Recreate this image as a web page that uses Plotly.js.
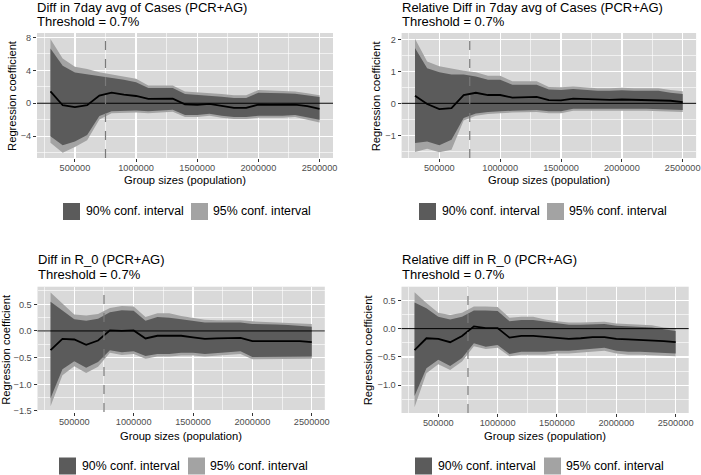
<!DOCTYPE html>
<html>
<head>
<meta charset="utf-8">
<script src="https://cdn.plot.ly/plotly-3.0.1.min.js"></script>
<style>html,body{margin:0;padding:0;background:#fff;}#chart{width:701px;height:475px;}</style>
</head>
<body>
<div id="chart"></div>
<script>
// ---------------- data ----------------
const groupSizes = [300000, 400000, 500000, 600000, 700000, 800000, 900000, 1000000, 1100000, 1200000, 1300000, 1400000, 1500000, 1600000, 1700000, 1800000, 1900000, 2000000, 2100000, 2200000, 2300000, 2400000, 2500000];

const titles1 = ["Diff in 7day avg of Cases (PCR+AG)", "Relative Diff in 7day avg of Cases (PCR+AG)", "Diff in R_0 (PCR+AG)", "Relative diff in R_0 (PCR+AG)"];
const titles2 = ["Threshold = 0.7%", "Threshold = 0.7%", "Threshold = 0.7%", "Threshold = 0.7%"];
const xTitle = "Group sizes (population)";
const yTitle = "Regression coefficient";
const legendLabels = ["90% conf. interval", "95% conf. interval"];
const thresholdX = 750000;
const refLineY = 0;

// Panel 1: Diff in 7day avg of Cases
const p1Est  = [1.44, -0.24, -0.48, -0.24, 0.92, 1.28, 1.04, 0.88, 0.52, 0.56, 0.56, -0.12, -0.2, -0.08, -0.32, -0.56, -0.56, -0.16, -0.2, -0.2, -0.16, -0.36, -0.68];
const p1Lo90 = [-4.0, -5.1, -4.64, -3.84, -1.56, -0.96, -0.88, -0.88, -0.96, -0.88, -0.8, -1.44, -1.44, -1.28, -1.52, -1.68, -1.68, -1.52, -1.52, -1.52, -1.44, -1.68, -2.0];
const p1Hi90 = [6.64, 4.56, 3.72, 3.52, 3.24, 3.12, 2.84, 2.56, 1.84, 1.84, 1.84, 1.12, 1.04, 0.96, 0.8, 0.64, 0.64, 1.28, 1.2, 1.2, 1.16, 0.96, 0.76];
const p1Lo95 = [-4.8, -6.0, -5.3, -4.5, -1.96, -1.2, -1.12, -1.12, -1.2, -1.12, -1.04, -1.68, -1.68, -1.52, -1.76, -1.92, -1.92, -1.76, -1.76, -1.76, -1.68, -1.96, -2.32];
const p1Hi95 = [7.8, 5.44, 4.44, 4.16, 3.76, 3.52, 3.24, 2.96, 2.16, 2.16, 2.16, 1.44, 1.36, 1.28, 1.12, 0.96, 0.96, 1.6, 1.52, 1.52, 1.44, 1.2, 0.96];

// Panel 2: Relative Diff in 7day avg of Cases
const p2Est  = [0.24, -0.02, -0.18, -0.15, 0.26, 0.33, 0.26, 0.26, 0.18, 0.2, 0.2, 0.1, 0.09, 0.15, 0.13, 0.11, 0.11, 0.12, 0.11, 0.11, 0.11, 0.08, 0.04];
const p2Lo90 = [-1.24, -1.19, -1.31, -1.14, -0.46, -0.32, -0.27, -0.25, -0.23, -0.21, -0.21, -0.25, -0.25, -0.17, -0.19, -0.19, -0.19, -0.17, -0.17, -0.17, -0.17, -0.19, -0.21];
const p2Hi90 = [1.73, 1.1, 0.97, 0.9, 0.9, 0.84, 0.74, 0.74, 0.58, 0.58, 0.58, 0.43, 0.42, 0.45, 0.41, 0.39, 0.39, 0.41, 0.39, 0.39, 0.39, 0.33, 0.29];
const p2Lo95 = [-1.52, -1.42, -1.53, -1.45, -0.54, -0.39, -0.33, -0.31, -0.29, -0.27, -0.27, -0.31, -0.31, -0.23, -0.25, -0.25, -0.25, -0.23, -0.23, -0.23, -0.23, -0.25, -0.27];
const p2Hi95 = [2.02, 1.31, 1.16, 1.08, 1.02, 0.97, 0.86, 0.86, 0.69, 0.69, 0.69, 0.51, 0.5, 0.53, 0.49, 0.47, 0.47, 0.49, 0.47, 0.47, 0.47, 0.42, 0.38];

// Panel 3: Diff in R_0
const p3Est  = [-0.36, -0.15, -0.16, -0.26, -0.18, 0.01, 0.0, 0.01, -0.14, -0.09, -0.09, -0.09, -0.12, -0.15, -0.14, -0.13, -0.13, -0.19, -0.19, -0.18, -0.18, -0.19, -0.21];
const p3Lo90 = [-1.26, -0.72, -0.57, -0.69, -0.58, -0.36, -0.4, -0.38, -0.47, -0.43, -0.43, -0.41, -0.41, -0.43, -0.41, -0.4, -0.38, -0.49, -0.48, -0.48, -0.48, -0.48, -0.48];
const p3Hi90 = [0.55, 0.38, 0.22, 0.19, 0.23, 0.35, 0.39, 0.38, 0.19, 0.26, 0.25, 0.22, 0.19, 0.16, 0.16, 0.16, 0.16, 0.13, 0.13, 0.12, 0.11, 0.1, 0.08];
const p3Lo95 = [-1.41, -0.83, -0.66, -0.79, -0.67, -0.41, -0.45, -0.43, -0.52, -0.48, -0.48, -0.46, -0.46, -0.48, -0.46, -0.45, -0.43, -0.53, -0.52, -0.52, -0.52, -0.52, -0.52];
const p3Hi95 = [0.72, 0.51, 0.31, 0.29, 0.32, 0.43, 0.47, 0.46, 0.26, 0.33, 0.33, 0.28, 0.25, 0.21, 0.2, 0.2, 0.2, 0.18, 0.17, 0.16, 0.16, 0.14, 0.13];

// Panel 4: Relative diff in R_0
const p4Est  = [-0.38, -0.17, -0.18, -0.24, -0.13, 0.04, 0.01, 0.01, -0.16, -0.13, -0.13, -0.15, -0.16, -0.18, -0.17, -0.15, -0.15, -0.18, -0.19, -0.2, -0.2, -0.22, -0.24];
const p4Lo90 = [-1.19, -0.7, -0.55, -0.66, -0.52, -0.26, -0.32, -0.29, -0.45, -0.41, -0.41, -0.41, -0.39, -0.39, -0.38, -0.36, -0.34, -0.39, -0.41, -0.41, -0.41, -0.43, -0.44];
const p4Hi90 = [0.46, 0.36, 0.21, 0.16, 0.21, 0.32, 0.32, 0.31, 0.13, 0.15, 0.15, 0.12, 0.09, 0.07, 0.07, 0.07, 0.08, 0.05, 0.04, 0.03, 0.02, -0.01, -0.04];
const p4Lo95 = [-1.39, -0.79, -0.63, -0.73, -0.58, -0.31, -0.36, -0.34, -0.49, -0.46, -0.46, -0.46, -0.44, -0.44, -0.43, -0.41, -0.39, -0.44, -0.46, -0.46, -0.46, -0.48, -0.49];
const p4Hi95 = [0.64, 0.45, 0.28, 0.24, 0.28, 0.39, 0.39, 0.38, 0.19, 0.21, 0.21, 0.16, 0.13, 0.11, 0.11, 0.11, 0.12, 0.09, 0.08, 0.07, 0.06, 0.02, 0.0];

// ---------------- layout helpers ----------------
const W = 701, H = 475;
const fx = v => v / W;
const fy = v => 1 - v / H;
const FONT = "Liberation Sans, Arial, Helvetica, sans-serif";
const DARK = "#5B5B5B", LIGHT = "#A3A3A3", BG = "#D9D9D9";

const series = [
  {est: p1Est, lo90: p1Lo90, hi90: p1Hi90, lo95: p1Lo95, hi95: p1Hi95},
  {est: p2Est, lo90: p2Lo90, hi90: p2Hi90, lo95: p2Lo95, hi95: p2Hi95},
  {est: p3Est, lo90: p3Lo90, hi90: p3Hi90, lo95: p3Lo95, hi95: p3Hi95},
  {est: p4Est, lo90: p4Lo90, hi90: p4Hi90, lo95: p4Lo95, hi95: p4Hi95}
];

// pixel geometry of each panel
const geo = [
  {l: 37.0, r: 333.0, t: 33.0, b: 158.0, yr: [-6.64, 8.52], dt: 4, mdt: 2, fmt: "", ytx: 11.4, t1: 7.4, t2: 22.0, xt: 180.0, legY: 211.5, legX: [63, 86, 191, 213]},
  {l: 401.6, r: 696.1, t: 33.0, b: 158.0, yr: [-1.71, 2.2], dt: 1, mdt: 0.5, fmt: "", ytx: 375.8, t1: 7.4, t2: 22.0, xt: 180.0, legY: 211.5, legX: [419, 442, 547, 569]},
  {l: 37.5, r: 324.8, t: 286.7, b: 412.0, yr: [-1.52, 0.83], dt: 0.5, mdt: 0.25, fmt: ".1f", ytx: 6.4, t1: 259.9, t2: 274.5, xt: 435.6, legY: 466, legX: [59, 82, 188, 210]},
  {l: 401.5, r: 688.7, t: 286.7, b: 413.0, yr: [-1.49, 0.74], dt: 0.5, mdt: 0.25, fmt: ".1f", ytx: 367.4, t1: 259.9, t2: 274.5, xt: 435.6, legY: 466, legX: [415, 438, 544, 566]}
];
const xRange = [190000, 2610000];

const traces = [];
const layout = {
  width: W, height: H,
  margin: {l: 0, r: 0, t: 0, b: 0},
  paper_bgcolor: "#FFFFFF",
  plot_bgcolor: BG,
  showlegend: false,
  font: {family: FONT, color: "#000"},
  shapes: [],
  annotations: []
};

const xsBand = groupSizes.concat(groupSizes.slice().reverse());

series.forEach((s, k) => {
  const i = k + 1;
  const xa = i === 1 ? "x" : "x" + i;
  const ya = i === 1 ? "y" : "y" + i;
  const g = geo[k];

  traces.push({
    type: "scatter", mode: "lines", xaxis: xa, yaxis: ya,
    x: xsBand, y: s.hi95.concat(s.lo95.slice().reverse()),
    fill: "toself", fillcolor: LIGHT, line: {width: 0, color: LIGHT}, hoverinfo: "skip", name: legendLabels[1]
  });
  traces.push({
    type: "scatter", mode: "lines", xaxis: xa, yaxis: ya,
    x: xsBand, y: s.hi90.concat(s.lo90.slice().reverse()),
    fill: "toself", fillcolor: DARK, line: {width: 0, color: DARK}, hoverinfo: "skip", name: legendLabels[0]
  });
  traces.push({
    type: "scatter", mode: "lines", xaxis: xa, yaxis: ya,
    x: groupSizes, y: s.est, line: {color: "#000000", width: 1.8}, name: "estimate"
  });

  layout["xaxis" + (i === 1 ? "" : i)] = {
    domain: [fx(g.l), fx(g.r)], anchor: ya, range: xRange,
    tickmode: "linear", tick0: 0, dtick: 500000, tickformat: "d",
    showgrid: true, gridcolor: "#FFFFFF", gridwidth: 1.3,
    minor: {tick0: 250000, dtick: 500000, showgrid: true, gridcolor: "#FFFFFF", gridwidth: 0.6, ticks: ""},
    zeroline: false, showline: false,
    ticks: "outside", ticklen: 3, tickwidth: 1, tickcolor: "#333333", ticklabelstandoff: -2,
    tickfont: {family: FONT, size: 9.2, color: "#4D4D4D"}
  };
  layout["yaxis" + (i === 1 ? "" : i)] = {
    domain: [fy(g.b), fy(g.t)], anchor: xa, range: g.yr,
    tickmode: "linear", tick0: 0, dtick: g.dt, tickformat: g.fmt,
    showgrid: true, gridcolor: "#FFFFFF", gridwidth: 1.3,
    minor: {tick0: g.mdt, dtick: g.dt, showgrid: true, gridcolor: "#FFFFFF", gridwidth: 0.6, ticks: ""},
    zeroline: false, showline: false,
    ticks: "outside", ticklen: 3, tickwidth: 1, tickcolor: "#333333",
    tickfont: {family: FONT, size: 9.2, color: "#4D4D4D"}
  };

  // reference lines
  layout.shapes.push({type: "line", xref: xa + " domain", yref: ya, x0: 0, x1: 1, y0: refLineY, y1: refLineY,
    line: {color: "#000000", width: 1}, layer: "above"});
  layout.shapes.push({type: "line", xref: xa, yref: ya + " domain", x0: thresholdX, x1: thresholdX, y0: 0, y1: 1,
    line: {color: "#7A7A7A", width: 1.2, dash: "dash"}, layer: "above"});

  // titles
  layout.annotations.push({text: titles1[k], xref: "paper", yref: "paper", x: fx(g.l), y: fy(g.t1),
    xanchor: "left", yanchor: "middle", showarrow: false, font: {family: FONT, size: 13, color: "#000"}, borderpad: 0, borderwidth: 0});
  layout.annotations.push({text: titles2[k], xref: "paper", yref: "paper", x: fx(g.l), y: fy(g.t2),
    xanchor: "left", yanchor: "middle", showarrow: false, font: {family: FONT, size: 13, color: "#000"}, borderpad: 0, borderwidth: 0});
  // axis titles
  layout.annotations.push({text: xTitle, xref: "paper", yref: "paper", x: fx((g.l + g.r) / 2), y: fy(g.xt),
    xanchor: "center", yanchor: "middle", showarrow: false, font: {family: FONT, size: 11.2, color: "#000"}, borderpad: 0, borderwidth: 0});
  layout.annotations.push({text: yTitle, xref: "paper", yref: "paper", x: fx(g.ytx), y: fy((g.t + g.b) / 2),
    xanchor: "center", yanchor: "middle", textangle: -90, showarrow: false, font: {family: FONT, size: 11.2, color: "#000"}, borderpad: 0, borderwidth: 0});

  // legend (keys + labels)
  const sq = 17;
  [[g.legX[0], DARK, g.legX[1], legendLabels[0]], [g.legX[2], LIGHT, g.legX[3], legendLabels[1]]].forEach(e => {
    layout.shapes.push({type: "rect", xref: "paper", yref: "paper",
      x0: fx(e[0]), x1: fx(e[0] + sq), y0: fy(g.legY + sq / 2), y1: fy(g.legY - sq / 2),
      fillcolor: e[1], line: {width: 0}});
    layout.annotations.push({text: e[3], xref: "paper", yref: "paper", x: fx(e[2]), y: fy(g.legY),
      xanchor: "left", yanchor: "middle", showarrow: false, font: {family: FONT, size: 12.3, color: "#000"}, borderpad: 0, borderwidth: 0});
  });
});

Plotly.newPlot("chart", traces, layout, {staticPlot: true, displayModeBar: false});
</script>
</body>
</html>
